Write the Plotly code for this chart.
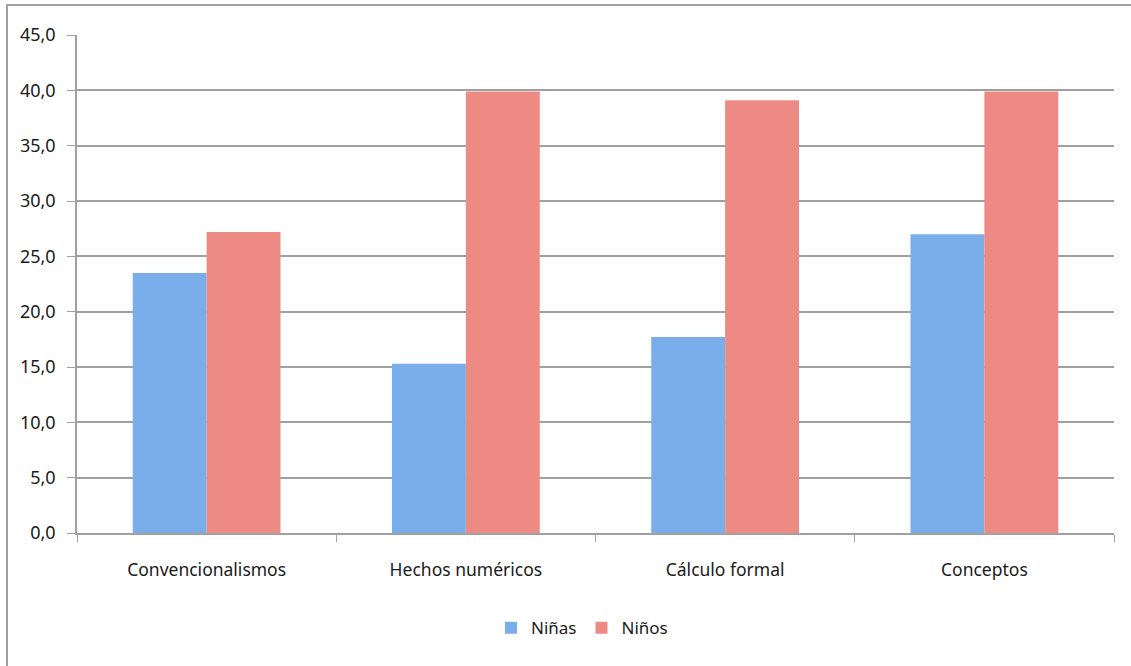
import plotly.graph_objects as go

categories = ["Convencionalismos", "Hechos numéricos", "Cálculo formal", "Conceptos"]
ninas = [23.5, 15.3, 17.7, 27.0]
ninos = [27.2, 39.9, 39.1, 39.9]
y_ticks = [0, 5, 10, 15, 20, 25, 30, 35, 40, 45]

font = dict(family="Noto Sans, Open Sans, sans-serif", size=17, color="#1a1a1a")

fig = go.Figure()
fig.add_trace(go.Bar(name="Niñas", x=categories, y=ninas,
                     marker=dict(color="#7aaeea", line=dict(width=0))))
fig.add_trace(go.Bar(name="Niños", x=categories, y=ninos,
                     marker=dict(color="#ee8a84", line=dict(width=0))))

fig.update_layout(
    width=1131, height=666,
    margin=dict(l=77, r=17, t=35, b=133),
    paper_bgcolor="white", plot_bgcolor="white",
    barmode="group", bargap=0.43, bargroupgap=0,
    separators=",.",
    font=font,
    showlegend=True,
    legend=dict(orientation="h", x=0.487, xanchor="center", y=-0.155, yanchor="top",
                font=dict(size=17), itemwidth=30, traceorder="normal"),
    xaxis=dict(showline=True, linecolor="#a0a0a0", linewidth=1.5,
               ticks="outside", tickson="boundaries", ticklen=7, tickcolor="#a0a0a0",
               tickfont=dict(size=17.5), showgrid=False, ticklabelstandoff=20),
    yaxis=dict(range=[0, 45], tickvals=y_ticks, tickformat=".1f",
               showline=True, linecolor="#a0a0a0", linewidth=1.5,
               ticks="outside", ticklen=8, tickcolor="#a0a0a0",
               gridcolor="#a0a0a0", gridwidth=1.5, zeroline=False,
               tickfont=dict(size=18), ticklabelstandoff=8),
    shapes=[dict(type="rect", xref="paper", yref="paper",
                 x0=-0.0675, x1=1.03, y0=-0.3, y1=1.0602,
                 line=dict(color="#a0a0a0", width=2), fillcolor="rgba(0,0,0,0)",
                 layer="below")],
)

fig.write_html("out.html", config={"displayModeBar": False},
               post_script="document.body.style.margin='0px';")
